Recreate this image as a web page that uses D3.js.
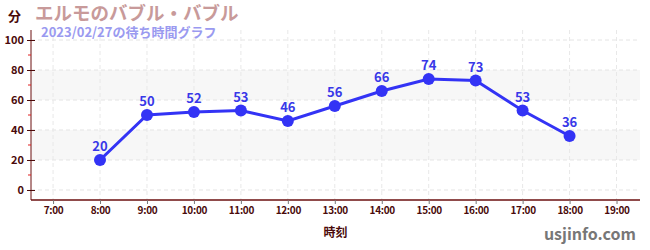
<!DOCTYPE html>
<html>
<head>
<meta charset="utf-8">
<script src="https://cdn.jsdelivr.net/npm/d3@7"></script>
<style>
  body { margin: 0; background: #fff; }
  text { font-family: "Noto Sans CJK JP", "Noto Sans", sans-serif; }
</style>
</head>
<body>
<script>
// data
var hours = [8, 9, 10, 11, 12, 13, 14, 15, 16, 17, 18];
var waits = [20, 50, 52, 53, 46, 56, 66, 74, 73, 53, 36];
var xTicks = [7, 8, 9, 10, 11, 12, 13, 14, 15, 16, 17, 18, 19];
var yTicks = [0, 20, 40, 60, 80, 100];
var yMinor = [10, 30, 50, 70, 90];
var bands = [[20, 40], [60, 80]];

var width = 650, height = 250;
var mLeft = 31, mRight = 640, mTop = 30, mBottom = 200;

var x = d3.scaleLinear().domain([6.53, 19.5]).range([mLeft, mRight]);
var y = d3.scaleLinear().domain([-6.67, 106.67]).range([mBottom, mTop]);

var svg = d3.select('body').append('svg')
	.attr('width', width)
	.attr('height', height);

// shaded bands
svg.selectAll('rect.band').data(bands).enter().append('rect')
	.attr('class', 'band')
	.attr('x', mLeft)
	.attr('width', mRight - mLeft)
	.attr('y', function(d) { return y(d[1]); })
	.attr('height', function(d) { return y(d[0]) - y(d[1]); })
	.attr('fill', '#f7f7f7');

// grid
svg.selectAll('line.hg').data(yTicks).enter().append('line')
	.attr('x1', mLeft).attr('x2', mRight)
	.attr('y1', function(d) { return y(d); })
	.attr('y2', function(d) { return y(d); })
	.attr('stroke', '#e4e4e4')
	.attr('stroke-dasharray', '4,3');
svg.selectAll('line.vg').data(xTicks).enter().append('line')
	.attr('y1', mTop).attr('y2', mBottom)
	.attr('x1', function(d) { return x(d); })
	.attr('x2', function(d) { return x(d); })
	.attr('stroke', '#e8e8e8')
	.attr('stroke-dasharray', '4,3');

// axes
var axisColor = '#4a0a0a';
var yAxis = d3.axisLeft(y).tickValues(yTicks).tickSize(4).tickPadding(3);
var gy = svg.append('g')
	.attr('transform', 'translate(' + mLeft + ',0)')
	.call(yAxis);
gy.select('.domain').attr('stroke', '#6b0f0f').attr('d', 'M0,' + mTop + 'V' + mBottom);
gy.selectAll('.tick line').attr('stroke', axisColor).attr('x2', -4).attr('x1', 4);
gy.selectAll('.tick text').attr('fill', axisColor).style('font-size', '11px').style('font-weight', 'bold');

svg.selectAll('line.minor').data(yMinor).enter().append('line')
	.attr('x1', mLeft - 3).attr('x2', mLeft)
	.attr('y1', function(d) { return y(d); })
	.attr('y2', function(d) { return y(d); })
	.attr('stroke', '#e02020');

var xAxis = d3.axisBottom(x).tickValues(xTicks).tickSize(4).tickPadding(3)
	.tickFormat(function(d) { return d + ':00'; });
var gx = svg.append('g')
	.attr('transform', 'translate(0,' + mBottom + ')')
	.call(xAxis);
gx.select('.domain').attr('stroke', '#6b0f0f').attr('stroke-width', 1.5).attr('d', 'M' + mLeft + ',0H' + mRight);
gx.selectAll('.tick line').attr('stroke', '#777');
gx.selectAll('.tick text').attr('fill', axisColor).style('font-size', '10px').style('font-weight', 'bold')
	.style('letter-spacing', '-0.3px');

// series
var blue = '#3333f5';
var line = d3.line()
	.x(function(d, i) { return x(hours[i]); })
	.y(function(d) { return y(d); });
svg.append('path')
	.datum(waits)
	.attr('d', line)
	.attr('fill', 'none')
	.attr('stroke', blue)
	.attr('stroke-width', 3);
svg.selectAll('circle.pt').data(waits).enter().append('circle')
	.attr('cx', function(d, i) { return x(hours[i]); })
	.attr('cy', function(d) { return y(d); })
	.attr('r', 6)
	.attr('fill', blue);
svg.selectAll('text.lbl').data(waits).enter().append('text')
	.attr('x', function(d, i) { return x(hours[i]); })
	.attr('y', function(d) { return y(d) - 9; })
	.attr('text-anchor', 'middle')
	.attr('fill', '#3838e8')
	.style('font-size', '13px')
	.style('font-weight', 'bold')
	.text(function(d) { return d; });

// titles
svg.append('text').attr('x', 8).attr('y', 21)
	.attr('fill', axisColor).style('font-size', '13px').style('font-weight', 'bold')
	.text('分');
svg.append('text').attr('x', 35).attr('y', 20)
	.attr('fill', '#c89a9a').style('font-size', '18.5px').style('font-weight', 'bold')
	.text('エルモのバブル・バブル');
svg.append('text').attr('x', 41).attr('y', 37)
	.attr('fill', '#9a9af0').style('font-size', '13px').style('font-weight', 'bold')
	.text('2023/02/27の待ち時間グラフ');
svg.append('text').attr('x', (mLeft + mRight) / 2).attr('y', 237)
	.attr('text-anchor', 'middle')
	.attr('fill', axisColor).style('font-size', '12px').style('font-weight', 'bold')
	.text('時刻');
svg.append('text').attr('x', 636).attr('y', 240)
	.attr('text-anchor', 'end')
	.attr('fill', '#777').style('font-size', '16px').style('font-weight', 'bold')
	.text('usjinfo.com');
</script>
</body>
</html>
